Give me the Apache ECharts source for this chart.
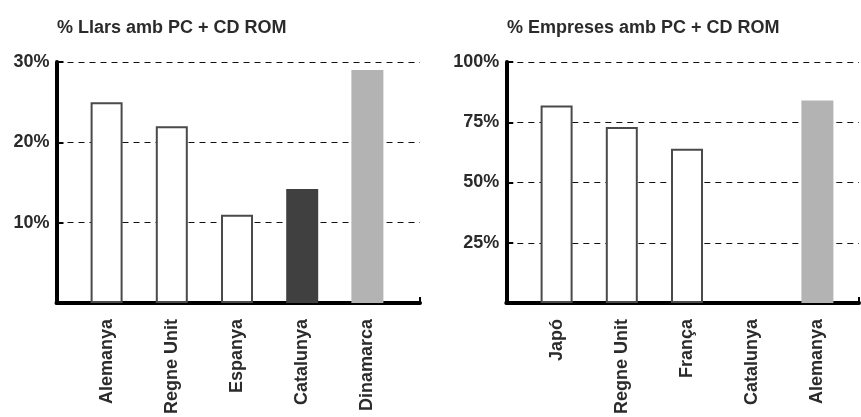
<!DOCTYPE html>
<html>
<head>
<meta charset="utf-8">
<script src="https://cdn.jsdelivr.net/npm/echarts@6/dist/echarts.min.js"></script>
<style>
html,body{margin:0;padding:0;background:#fff;}
#c{width:861px;height:417px;}
</style>
</head>
<body>
<div id="c"></div>
<script>
// ---- data ----
const leftTitle = '% Llars amb PC + CD ROM';
const leftCategories = ['Alemanya', 'Regne Unit', 'Espanya', 'Catalunya', 'Dinamarca'];
const leftValues = [25, 22, 11, 14.2, 29];
const leftTicks = [0, 10, 20, 30];

const rightTitle = '% Empreses amb PC + CD ROM';
const rightCategories = ['Japó', 'Regne Unit', 'França', 'Catalunya', 'Alemanya'];
const rightValues = [82, 73, 64, null, 84];
const rightTicks = [0, 25, 50, 75, 100];

const darkCategory = 'Catalunya';
const leftGreyCategory = 'Dinamarca';
const rightGreyCategory = 'Alemanya';

// ---- styling ----
const FONT = "'Liberation Sans', Arial, sans-serif";
const TXT = '#2b2b2b';
const hollow = { color: '#ffffff', borderColor: '#4a4a4a', borderWidth: 2 };
const dark = { color: '#404040', borderWidth: 0 };
const grey = { color: '#b3b3b3', borderWidth: 0 };

function styledData(cats, vals, greyCat) {
  return cats.map((c, i) => ({
    value: vals[i],
    itemStyle: c === darkCategory ? dark : (c === greyCat ? grey : hollow)
  }));
}

const TOP = 62, BOTTOM = 114;

function frameAxes(gridIdx, ticks) {
  const max = ticks[ticks.length - 1];
  const step = ticks[1] - ticks[0];
  return {
    x: {
      type: 'value', gridIndex: gridIdx, min: 0, max: 1, interval: 1,
      axisLine: { show: true, onZero: false, lineStyle: { color: '#000', width: 4 } },
      axisTick: { show: true, inside: true, length: 6, lineStyle: { color: '#000', width: 2 } },
      axisLabel: { show: false }, splitLine: { show: false }
    },
    y: {
      type: 'value', gridIndex: gridIdx, min: 0, max: max, interval: step,
      axisLine: { show: true, lineStyle: { color: '#000', width: 4 } },
      axisTick: { show: true, inside: true, length: 7, lineStyle: { color: '#000', width: 2 } },
      axisLabel: {
        margin: 7, color: TXT, fontFamily: FONT, fontSize: 18, fontWeight: 'bold',
        formatter: v => (v === 0 ? '' : v + '%')
      },
      splitLine: { show: true, lineStyle: { color: '#111', width: 1, type: [6, 5] } }
    }
  };
}

function barAxes(gridIdx, cats, ticks) {
  return {
    x: {
      type: 'category', gridIndex: gridIdx, data: cats,
      axisLine: { show: false }, axisTick: { show: false },
      axisLabel: {
        rotate: 90, margin: 16, interval: 0, color: TXT,
        fontFamily: FONT, fontSize: 18, fontWeight: 'bold'
      }
    },
    y: {
      type: 'value', gridIndex: gridIdx, min: 0, max: ticks[ticks.length - 1],
      interval: ticks[1] - ticks[0], show: false
    }
  };
}

const fL = frameAxes(0, leftTicks), bL = barAxes(1, leftCategories, leftTicks);
const fR = frameAxes(2, rightTicks), bR = barAxes(3, rightCategories, rightTicks);

const option = {
  animation: false,
  backgroundColor: '#ffffff',
  title: [
    { text: leftTitle, left: 52, top: 14,
      textStyle: { fontFamily: FONT, fontSize: 18, fontWeight: 'bold', color: TXT } },
    { text: rightTitle, left: 502, top: 14,
      textStyle: { fontFamily: FONT, fontSize: 18, fontWeight: 'bold', color: TXT } }
  ],
  grid: [
    { left: 56.5, right: 441, top: TOP, bottom: BOTTOM },
    { left: 74, width: 326, top: TOP, bottom: BOTTOM },
    { left: 506.3, right: 2, top: TOP, bottom: BOTTOM },
    { left: 524, width: 326, top: TOP, bottom: BOTTOM }
  ],
  xAxis: [fL.x, bL.x, fR.x, bR.x],
  yAxis: [fL.y, bL.y, fR.y, bR.y],
  series: [
    { type: 'bar', xAxisIndex: 1, yAxisIndex: 1, barWidth: 32,
      data: styledData(leftCategories, leftValues, leftGreyCategory), z: 1 },
    { type: 'bar', xAxisIndex: 3, yAxisIndex: 3, barWidth: 32,
      data: styledData(rightCategories, rightValues, rightGreyCategory), z: 1 }
  ]
};

const chart = echarts.init(document.getElementById('c'), null, { renderer: 'canvas' });
chart.setOption(option);
</script>
</body>
</html>
